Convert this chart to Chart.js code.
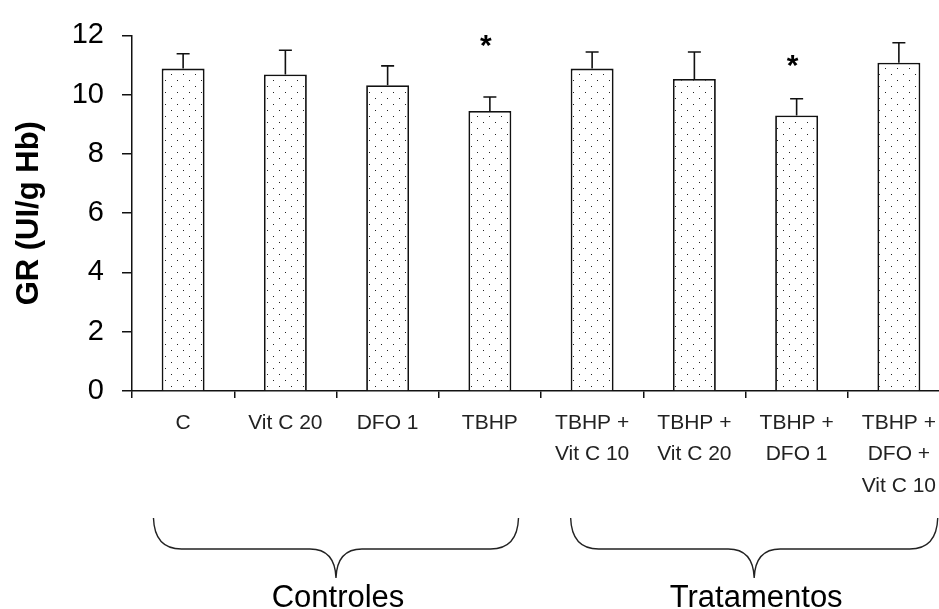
<!DOCTYPE html>
<html><head><meta charset="utf-8">
<script src="https://cdn.jsdelivr.net/npm/chart.js@4"></script>
<style>html,body{margin:0;padding:0;overflow:hidden;background:#fff;width:939px;height:609px}canvas{display:block}</style>
</head><body>
<canvas id="c" width="950" height="609"></canvas>
<script>
// ---- data ----
const categories = [['C'],['Vit C 20'],['DFO 1'],['TBHP'],['TBHP +','Vit C 10'],['TBHP +','Vit C 20'],['TBHP +','DFO 1'],['TBHP +','DFO +','Vit C 10']];
const means = [10.88, 10.68, 10.32, 9.45, 10.88, 10.53, 9.30, 11.08];
const sds = [0.50, 0.82, 0.65, 0.47, 0.56, 0.91, 0.56, 0.67];
const starLevels = [null, null, null, 11.6, null, null, 10.92, null];
const yTicks = [0, 2, 4, 6, 8, 10, 12];
const groupNames = ['Controles', 'Tratamentos'];
const groupFrom = [0, 4];
const groupTo = [3, 7];

// ---- dotted pattern ----
const pc = document.createElement('canvas');
pc.width = 12; pc.height = 12;
const px = pc.getContext('2d');
px.fillStyle = '#fff'; px.fillRect(0, 0, 12, 12);
px.fillStyle = '#222';
px.fillRect(3, 2, 1, 1);
px.fillRect(9, 8, 1, 1);
const ctx0 = document.getElementById('c').getContext('2d');
const dots = ctx0.createPattern(pc, 'repeat');

const FONT = '"Liberation Sans", Arial, sans-serif';

const errorBars = {
  id: 'errorBars',
  afterDatasetsDraw(chart) {
    const ctx = chart.ctx, y = chart.scales.y;
    const meta = chart.getDatasetMeta(0);
    ctx.save();
    ctx.strokeStyle = '#111'; ctx.lineWidth = 1.6;
    meta.data.forEach((el, i) => {
      const top = y.getPixelForValue(means[i] + sds[i]);
      ctx.beginPath();
      ctx.moveTo(el.x, el.y); ctx.lineTo(el.x, top);
      ctx.moveTo(el.x - 6.5, top); ctx.lineTo(el.x + 6.5, top);
      ctx.stroke();
    });
    ctx.fillStyle = '#000';
    ctx.font = 'bold 30px ' + FONT;
    ctx.textAlign = 'center'; ctx.textBaseline = 'alphabetic';
    meta.data.forEach((el, i) => {
      if (starLevels[i] == null) return;
      const sy = y.getPixelForValue(starLevels[i]);
      ctx.fillText('*', el.x - 4, sy + 8);
    });
    ctx.restore();
  }
};

const braces = {
  id: 'braces',
  afterDraw(chart) {
    const ctx = chart.ctx, x = chart.scales.x, ca = chart.chartArea;
    const cw = x.getPixelForValue(1) - x.getPixelForValue(0);
    const padL = [0.29, 0.21], padR = [0.28, 0.38];
    const yTop = ca.bottom + 127, yLine = ca.bottom + 158, yTip = ca.bottom + 187;
    ctx.save();
    ctx.strokeStyle = '#222'; ctx.lineWidth = 1.4;
    groupNames.forEach((name, g) => {
      const x0 = x.getPixelForValue(groupFrom[g]) - padL[g] * cw;
      const x1 = x.getPixelForValue(groupTo[g]) + padR[g] * cw;
      const cx = (x0 + x1) / 2;
      ctx.beginPath();
      ctx.moveTo(x0, yTop);
      ctx.quadraticCurveTo(x0 + 1, yLine, x0 + 28, yLine);
      ctx.lineTo(cx - 26, yLine);
      ctx.quadraticCurveTo(cx - 1, yLine, cx, yTip);
      ctx.quadraticCurveTo(cx + 1, yLine, cx + 26, yLine);
      ctx.lineTo(x1 - 28, yLine);
      ctx.quadraticCurveTo(x1 - 1, yLine, x1, yTop);
      ctx.stroke();
      ctx.fillStyle = '#000';
      ctx.font = '31px ' + FONT;
      ctx.textAlign = 'center'; ctx.textBaseline = 'alphabetic';
      ctx.fillText(name, cx + 2, chart.height - 2);
    });
    ctx.restore();
  }
};

new Chart(ctx0, {
  type: 'bar',
  data: {
    labels: categories,
    datasets: [{
      data: means,
      backgroundColor: dots,
      borderColor: '#111',
      borderWidth: 1.8,
      barPercentage: 0.42,
      categoryPercentage: 1.0
    }]
  },
  options: {
    responsive: false,
    animation: false,
    devicePixelRatio: 1,
    layout: { padding: { top: 29, left: 0, right: 0, bottom: 0 } },
    plugins: { legend: { display: false }, tooltip: { enabled: false } },
    scales: {
      x: {
        type: 'category',
        offset: true,
        afterFit(s) { s.height = 218; },
        grid: { offset: true, drawOnChartArea: false, drawTicks: true, tickLength: 7, color: '#111', lineWidth: 1.5 },
        border: { display: true, color: '#111', width: 1.5 },
        ticks: { color: '#222', font: { family: FONT, size: 21, lineHeight: 1.5 }, padding: 9, maxRotation: 0, autoSkip: false }
      },
      y: {
        min: 0, max: 12,
        afterBuildTicks(s) { s.ticks = yTicks.map(v => ({ value: v })); },
        afterFit(s) { s.width = 132; },
        grid: { drawOnChartArea: false, drawTicks: true, tickLength: 10, color: '#111', lineWidth: 1.5 },
        border: { display: true, color: '#111', width: 1.5 },
        ticks: { color: '#000', font: { family: FONT, size: 29 }, padding: 18 },
        title: { display: true, text: 'GR (UI/g Hb)', color: '#000', font: { family: FONT, size: 31, weight: 'bold' }, padding: { top: 11, bottom: 0 } }
      }
    }
  },
  plugins: [errorBars, braces]
});
</script>
</body></html>
